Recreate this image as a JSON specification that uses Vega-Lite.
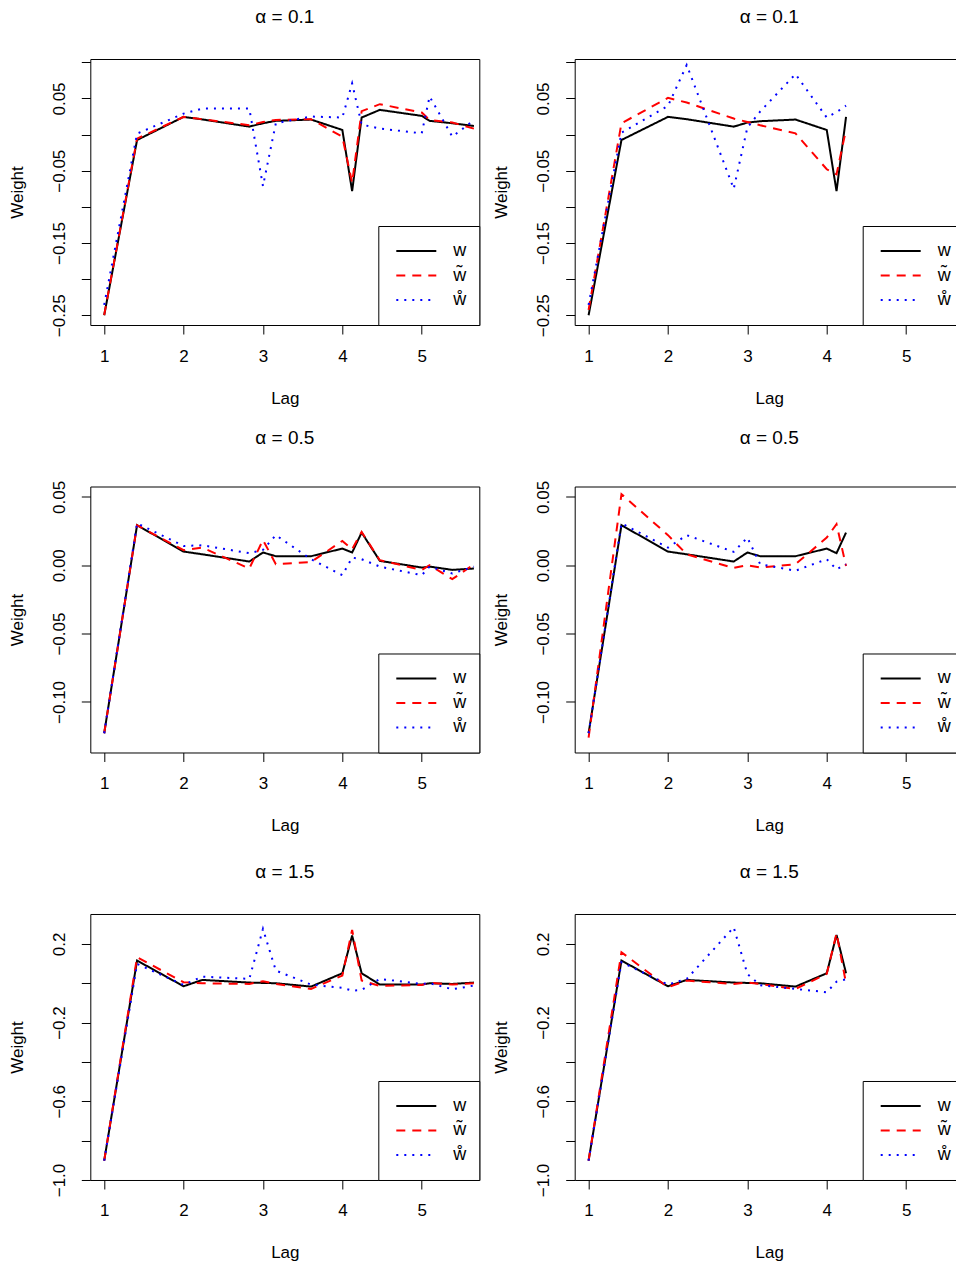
{
  "$schema": "https://vega.github.io/schema/vega-lite/v6.json",
  "padding": {"left": 7.3, "top": 7, "right": 0, "bottom": 0},
  "background": "white",
  "data": {"values": [
    {"p":"r1L","lag":1,"w":-0.25,"w\u0303":-0.2496,"\u1e98":-0.2356},
    {"p":"r1L","lag":1.414,"w":-0.0075,"w\u0303":-0.0056,"\u1e98":0.0013},
    {"p":"r1L","lag":2,"w":0.0245,"w\u0303":0.0245,"\u1e98":0.029},
    {"p":"r1L","lag":2.236,"w":0.021,"w\u0303":0.0213,"\u1e98":0.036},
    {"p":"r1L","lag":2.828,"w":0.011,"w\u0303":0.0129,"\u1e98":0.036},
    {"p":"r1L","lag":3,"w":0.0157,"w\u0303":0.0175,"\u1e98":-0.0713},
    {"p":"r1L","lag":3.162,"w":0.019,"w\u0303":0.0203,"\u1e98":0.0157},
    {"p":"r1L","lag":3.606,"w":0.0208,"w\u0303":0.0213,"\u1e98":0.025},
    {"p":"r1L","lag":4,"w":0.0064,"w\u0303":-0.003,"\u1e98":0.0236},
    {"p":"r1L","lag":4.123,"w":-0.0783,"w\u0303":-0.0667,"\u1e98":0.0708},
    {"p":"r1L","lag":4.243,"w":0.0236,"w\u0303":0.0324,"\u1e98":0.0139},
    {"p":"r1L","lag":4.472,"w":0.0342,"w\u0303":0.0421,"\u1e98":0.0083},
    {"p":"r1L","lag":5,"w":0.0259,"w\u0303":0.0305,"\u1e98":0.0018},
    {"p":"r1L","lag":5.099,"w":0.019,"w\u0303":0.0203,"\u1e98":0.0527},
    {"p":"r1L","lag":5.385,"w":0.0157,"w\u0303":0.0166,"\u1e98":-0.0028},
    {"p":"r1L","lag":5.657,"w":0.012,"w\u0303":0.0083,"\u1e98":0.0199},

    {"p":"r1R","lag":1,"w":-0.25,"w\u0303":-0.2426,"\u1e98":-0.2356},
    {"p":"r1R","lag":1.414,"w":-0.0075,"w\u0303":0.0157,"\u1e98":0.0027},
    {"p":"r1R","lag":2,"w":0.0245,"w\u0303":0.0508,"\u1e98":0.0397},
    {"p":"r1R","lag":2.236,"w":0.0213,"w\u0303":0.0444,"\u1e98":0.0963},
    {"p":"r1R","lag":2.828,"w":0.011,"w\u0303":0.0222,"\u1e98":-0.075},
    {"p":"r1R","lag":3,"w":0.0166,"w\u0303":0.0175,"\u1e98":0.0097},
    {"p":"r1R","lag":3.162,"w":0.0185,"w\u0303":0.0129,"\u1e98":0.032},
    {"p":"r1R","lag":3.606,"w":0.0208,"w\u0303":0.0018,"\u1e98":0.0837},
    {"p":"r1R","lag":4,"w":0.0064,"w\u0303":-0.048,"\u1e98":0.0236},
    {"p":"r1R","lag":4.123,"w":-0.0783,"w\u0303":-0.055,"\u1e98":0.031},
    {"p":"r1R","lag":4.243,"w":0.0245,"w\u0303":0.007,"\u1e98":0.04},

    {"p":"r2L","lag":1,"w":-0.1229,"w\u0303":-0.1229,"\u1e98":-0.1229},
    {"p":"r2L","lag":1.414,"w":0.0293,"w\u0303":0.0293,"\u1e98":0.0307},
    {"p":"r2L","lag":2,"w":0.01,"w\u0303":0.011,"\u1e98":0.0141},
    {"p":"r2L","lag":2.236,"w":0.008,"w\u0303":0.0129,"\u1e98":0.0146},
    {"p":"r2L","lag":2.828,"w":0.0027,"w\u0303":-0.0024,"\u1e98":0.0088},
    {"p":"r2L","lag":3,"w":0.0093,"w\u0303":0.0185,"\u1e98":0.0112},
    {"p":"r2L","lag":3.162,"w":0.0066,"w\u0303":0.0007,"\u1e98":0.022},
    {"p":"r2L","lag":3.606,"w":0.0066,"w\u0303":0.0024,"\u1e98":0.0044},
    {"p":"r2L","lag":4,"w":0.0122,"w\u0303":0.0178,"\u1e98":-0.0073},
    {"p":"r2L","lag":4.123,"w":0.0093,"w\u0303":0.0117,"\u1e98":0.0056},
    {"p":"r2L","lag":4.243,"w":0.0239,"w\u0303":0.0244,"\u1e98":0.0044},
    {"p":"r2L","lag":4.472,"w":0.0032,"w\u0303":0.0037,"\u1e98":-0.001},
    {"p":"r2L","lag":5,"w":-0.0017,"w\u0303":-0.0034,"\u1e98":-0.0073},
    {"p":"r2L","lag":5.099,"w":-0.001,"w\u0303":0,"\u1e98":-0.001},
    {"p":"r2L","lag":5.385,"w":-0.0034,"w\u0303":-0.0102,"\u1e98":-0.0061},
    {"p":"r2L","lag":5.657,"w":-0.0024,"w\u0303":0.0007,"\u1e98":-0.001},

    {"p":"r2R","lag":1,"w":-0.1229,"w\u0303":-0.1261,"\u1e98":-0.1229},
    {"p":"r2R","lag":1.414,"w":0.0293,"w\u0303":0.052,"\u1e98":0.0307},
    {"p":"r2R","lag":2,"w":0.01,"w\u0303":0.022,"\u1e98":0.0129},
    {"p":"r2R","lag":2.236,"w":0.008,"w\u0303":0.008,"\u1e98":0.022},
    {"p":"r2R","lag":2.828,"w":0.0027,"w\u0303":-0.002,"\u1e98":0.0098},
    {"p":"r2R","lag":3,"w":0.0093,"w\u0303":0,"\u1e98":0.0202},
    {"p":"r2R","lag":3.162,"w":0.0066,"w\u0303":-0.0017,"\u1e98":0.0007},
    {"p":"r2R","lag":3.606,"w":0.0066,"w\u0303":0.0007,"\u1e98":-0.004},
    {"p":"r2R","lag":4,"w":0.0122,"w\u0303":0.0202,"\u1e98":0.0044},
    {"p":"r2R","lag":4.123,"w":0.0088,"w\u0303":0.03,"\u1e98":-0.003},
    {"p":"r2R","lag":4.243,"w":0.0239,"w\u0303":-0.0005,"\u1e98":0.0007},

    {"p":"r3L","lag":1,"w":-0.9017,"w\u0303":-0.9017,"\u1e98":-0.9017},
    {"p":"r3L","lag":1.414,"w":0.1153,"w\u0303":0.1322,"\u1e98":0.0983},
    {"p":"r3L","lag":2,"w":-0.0153,"w\u0303":0.0051,"\u1e98":-0.0085},
    {"p":"r3L","lag":2.236,"w":0.017,"w\u0303":0,"\u1e98":0.0339},
    {"p":"r3L","lag":2.828,"w":0.0034,"w\u0303":-0.0034,"\u1e98":0.022},
    {"p":"r3L","lag":3,"w":0.0017,"w\u0303":0.0102,"\u1e98":0.276},
    {"p":"r3L","lag":3.162,"w":0,"w\u0303":-0.0034,"\u1e98":0.0644},
    {"p":"r3L","lag":3.606,"w":-0.017,"w\u0303":-0.0288,"\u1e98":-0.0068},
    {"p":"r3L","lag":4,"w":0.0508,"w\u0303":0.039,"\u1e98":-0.0237},
    {"p":"r3L","lag":4.123,"w":0.2424,"w\u0303":0.2712,"\u1e98":-0.0373},
    {"p":"r3L","lag":4.243,"w":0.0508,"w\u0303":0.0136,"\u1e98":-0.0339},
    {"p":"r3L","lag":4.472,"w":-0.0068,"w\u0303":-0.0136,"\u1e98":0.022},
    {"p":"r3L","lag":5,"w":-0.0068,"w\u0303":-0.0085,"\u1e98":-0.0034},
    {"p":"r3L","lag":5.099,"w":0,"w\u0303":0.0034,"\u1e98":0},
    {"p":"r3L","lag":5.385,"w":-0.0034,"w\u0303":-0.0068,"\u1e98":-0.0305},
    {"p":"r3L","lag":5.657,"w":0.0034,"w\u0303":0,"\u1e98":-0.0119},

    {"p":"r3R","lag":1,"w":-0.9017,"w\u0303":-0.9017,"\u1e98":-0.9017},
    {"p":"r3R","lag":1.414,"w":0.1153,"w\u0303":0.1576,"\u1e98":0.1068},
    {"p":"r3R","lag":2,"w":-0.0153,"w\u0303":-0.0203,"\u1e98":-0.0068},
    {"p":"r3R","lag":2.236,"w":0.017,"w\u0303":0.0136,"\u1e98":0.022},
    {"p":"r3R","lag":2.828,"w":0.0034,"w\u0303":-0.0034,"\u1e98":0.2847},
    {"p":"r3R","lag":3,"w":0.0017,"w\u0303":0.0034,"\u1e98":0.047},
    {"p":"r3R","lag":3.162,"w":0,"w\u0303":-0.0034,"\u1e98":-0.01},
    {"p":"r3R","lag":3.606,"w":-0.017,"w\u0303":-0.0288,"\u1e98":-0.0288},
    {"p":"r3R","lag":4,"w":0.0508,"w\u0303":0.0475,"\u1e98":-0.0458},
    {"p":"r3R","lag":4.123,"w":0.2458,"w\u0303":0.2542,"\u1e98":0.008},
    {"p":"r3R","lag":4.243,"w":0.0508,"w\u0303":0,"\u1e98":0.02}
  ]},
  "transform": [{"fold": ["w", "w\u0303", "\u1e98"], "as": ["s", "weight"]}],
  "columns": 2,
  "bounds": "flush",
  "spacing": {"row": 161.5, "column": 95.4},
  "resolve": {"scale": {"color": "independent", "strokeDash": "independent", "y": "independent", "x": "independent"}, "legend": {"color": "independent", "strokeDash": "independent"}},
  "concat": [
    {
      "title": {"text": "\u03b1 = 0.1"},
      "width": 389, "height": 266,
      "transform": [{"filter": "datum.p == 'r1L'"}],
      "mark": {"type": "line", "strokeWidth": 2, "clip": true},
      "encoding": {
        "x": {"field": "lag", "type": "quantitative", "scale": {"domain": [0.825, 5.725], "nice": false, "zero": false}, "axis": {"values": [1, 2, 3, 4, 5], "title": "Lag"}},
        "y": {"field": "weight", "type": "quantitative", "scale": {"domain": [-0.2635, 0.1046], "nice": false, "zero": false}, "axis": {"values": [0.1, 0.05, 0, -0.05, -0.1, -0.15, -0.2, -0.25], "labelExpr": "abs(round(datum.value*100)) % 10 == 5 ? format(datum.value, '.2f') : ''", "title": "Weight"}},
        "color": {"field": "s", "type": "nominal", "scale": {"domain": ["w", "w\u0303", "\u1e98"], "range": ["#000000", "#ff0000", "#0000ff"]}, "legend": {"title": null}},
        "strokeDash": {"field": "s", "type": "nominal", "scale": {"domain": ["w", "w\u0303", "\u1e98"], "range": [[1, 0], [9, 7], [2, 6]]}, "legend": {"title": null}}
      }
    },
    {
      "title": {"text": "\u03b1 = 0.1"},
      "width": 389, "height": 266,
      "transform": [{"filter": "datum.p == 'r1R'"}],
      "mark": {"type": "line", "strokeWidth": 2, "clip": true},
      "encoding": {
        "x": {"field": "lag", "type": "quantitative", "scale": {"domain": [0.825, 5.725], "nice": false, "zero": false}, "axis": {"values": [1, 2, 3, 4, 5], "title": "Lag"}},
        "y": {"field": "weight", "type": "quantitative", "scale": {"domain": [-0.2635, 0.1046], "nice": false, "zero": false}, "axis": {"values": [0.1, 0.05, 0, -0.05, -0.1, -0.15, -0.2, -0.25], "labelExpr": "abs(round(datum.value*100)) % 10 == 5 ? format(datum.value, '.2f') : ''", "title": "Weight"}},
        "color": {"field": "s", "type": "nominal", "scale": {"domain": ["w", "w\u0303", "\u1e98"], "range": ["#000000", "#ff0000", "#0000ff"]}, "legend": {"title": null}},
        "strokeDash": {"field": "s", "type": "nominal", "scale": {"domain": ["w", "w\u0303", "\u1e98"], "range": [[1, 0], [9, 7], [2, 6]]}, "legend": {"title": null}}
      }
    },
    {
      "title": {"text": "\u03b1 = 0.5"},
      "width": 389, "height": 266,
      "transform": [{"filter": "datum.p == 'r2L'"}],
      "mark": {"type": "line", "strokeWidth": 2, "clip": true},
      "encoding": {
        "x": {"field": "lag", "type": "quantitative", "scale": {"domain": [0.825, 5.725], "nice": false, "zero": false}, "axis": {"values": [1, 2, 3, 4, 5], "title": "Lag"}},
        "y": {"field": "weight", "type": "quantitative", "scale": {"domain": [-0.137, 0.0576], "nice": false, "zero": false}, "axis": {"values": [0.05, 0, -0.05, -0.1], "labelExpr": "format(datum.value, '.2f')", "title": "Weight"}},
        "color": {"field": "s", "type": "nominal", "scale": {"domain": ["w", "w\u0303", "\u1e98"], "range": ["#000000", "#ff0000", "#0000ff"]}, "legend": {"title": null}},
        "strokeDash": {"field": "s", "type": "nominal", "scale": {"domain": ["w", "w\u0303", "\u1e98"], "range": [[1, 0], [9, 7], [2, 6]]}, "legend": {"title": null}}
      }
    },
    {
      "title": {"text": "\u03b1 = 0.5"},
      "width": 389, "height": 266,
      "transform": [{"filter": "datum.p == 'r2R'"}],
      "mark": {"type": "line", "strokeWidth": 2, "clip": true},
      "encoding": {
        "x": {"field": "lag", "type": "quantitative", "scale": {"domain": [0.825, 5.725], "nice": false, "zero": false}, "axis": {"values": [1, 2, 3, 4, 5], "title": "Lag"}},
        "y": {"field": "weight", "type": "quantitative", "scale": {"domain": [-0.137, 0.0576], "nice": false, "zero": false}, "axis": {"values": [0.05, 0, -0.05, -0.1], "labelExpr": "format(datum.value, '.2f')", "title": "Weight"}},
        "color": {"field": "s", "type": "nominal", "scale": {"domain": ["w", "w\u0303", "\u1e98"], "range": ["#000000", "#ff0000", "#0000ff"]}, "legend": {"title": null}},
        "strokeDash": {"field": "s", "type": "nominal", "scale": {"domain": ["w", "w\u0303", "\u1e98"], "range": [[1, 0], [9, 7], [2, 6]]}, "legend": {"title": null}}
      }
    },
    {
      "title": {"text": "\u03b1 = 1.5"},
      "width": 389, "height": 266,
      "transform": [{"filter": "datum.p == 'r3L'"}],
      "mark": {"type": "line", "strokeWidth": 2, "clip": true},
      "encoding": {
        "x": {"field": "lag", "type": "quantitative", "scale": {"domain": [0.825, 5.725], "nice": false, "zero": false}, "axis": {"values": [1, 2, 3, 4, 5], "title": "Lag"}},
        "y": {"field": "weight", "type": "quantitative", "scale": {"domain": [-1.0, 0.352], "nice": false, "zero": false}, "axis": {"values": [0.2, 0, -0.2, -0.4, -0.6, -0.8, -1.0], "labelExpr": "(abs(round(datum.value*10)) + 2) % 4 == 0 ? format(datum.value, '.1f') : ''", "title": "Weight"}},
        "color": {"field": "s", "type": "nominal", "scale": {"domain": ["w", "w\u0303", "\u1e98"], "range": ["#000000", "#ff0000", "#0000ff"]}, "legend": {"title": null}},
        "strokeDash": {"field": "s", "type": "nominal", "scale": {"domain": ["w", "w\u0303", "\u1e98"], "range": [[1, 0], [9, 7], [2, 6]]}, "legend": {"title": null}}
      }
    },
    {
      "title": {"text": "\u03b1 = 1.5"},
      "width": 389, "height": 266,
      "transform": [{"filter": "datum.p == 'r3R'"}],
      "mark": {"type": "line", "strokeWidth": 2, "clip": true},
      "encoding": {
        "x": {"field": "lag", "type": "quantitative", "scale": {"domain": [0.825, 5.725], "nice": false, "zero": false}, "axis": {"values": [1, 2, 3, 4, 5], "title": "Lag"}},
        "y": {"field": "weight", "type": "quantitative", "scale": {"domain": [-1.0, 0.352], "nice": false, "zero": false}, "axis": {"values": [0.2, 0, -0.2, -0.4, -0.6, -0.8, -1.0], "labelExpr": "(abs(round(datum.value*10)) + 2) % 4 == 0 ? format(datum.value, '.1f') : ''", "title": "Weight"}},
        "color": {"field": "s", "type": "nominal", "scale": {"domain": ["w", "w\u0303", "\u1e98"], "range": ["#000000", "#ff0000", "#0000ff"]}, "legend": {"title": null}},
        "strokeDash": {"field": "s", "type": "nominal", "scale": {"domain": ["w", "w\u0303", "\u1e98"], "range": [[1, 0], [9, 7], [2, 6]]}, "legend": {"title": null}}
      }
    }
  ],
  "config": {
    "font": "Liberation Sans",
    "view": {"stroke": "#000000", "strokeWidth": 1},
    "title": {"font": "Liberation Sans", "fontSize": 19, "fontWeight": "normal", "color": "#000000", "anchor": "middle", "frame": "group", "baseline": "alphabetic", "offset": 32},
    "axis": {"labelFont": "Liberation Sans", "labelFontSize": 17, "labelColor": "#000000", "titleFont": "Liberation Sans", "titleFontSize": 17, "titleFontWeight": "normal", "titleColor": "#000000", "grid": false, "domain": false, "tickColor": "#000000", "tickSize": 9, "tickWidth": 1, "labelOverlap": false, "labelBound": false, "labelFlush": false},
    "axisY": {"labelAngle": -90, "labelAlign": "center", "labelBaseline": "bottom", "labelPadding": 13, "titlePadding": 24},
    "axisX": {"labelPadding": 14, "titlePadding": 26},
    "legend": {"orient": "bottom-right", "offset": 0, "strokeColor": "#000000", "fillColor": "#ffffff", "padding": 13, "symbolType": "stroke", "symbolSize": 1600, "symbolStrokeWidth": 2, "symbolOffset": 4, "labelFont": "Liberation Sans", "labelFontSize": 18, "labelColor": "#000000", "labelOffset": 16, "rowPadding": 0.5, "clipHeight": 24, "cornerRadius": 0}
  }
}
